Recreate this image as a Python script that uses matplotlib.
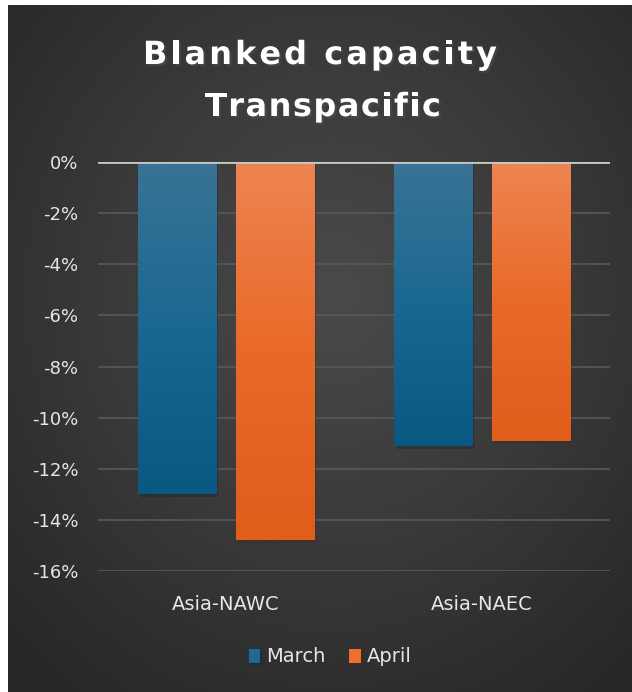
import numpy as np
import matplotlib
matplotlib.use("Agg")
import matplotlib.pyplot as plt
from matplotlib.colors import LinearSegmentedColormap
from matplotlib.font_manager import FontProperties
import matplotlib.patheffects as pe

# data
categories = ["Asia-NAWC", "Asia-NAEC"]
series_names = ["March", "April"]
march = [-13.0, -11.1]
april = [-14.8, -10.9]
yticks = [0, -2, -4, -6, -8, -10, -12, -14, -16]

W, H = 632, 692
fig = plt.figure(figsize=(W / 100, H / 100), dpi=100)
fig.patch.set_facecolor("white")

# background with radial gradient
bg = fig.add_axes([8 / W, 0, 1 - 8 / W, 1 - 5 / H])
bg.set_axis_off()
yy, xx = np.mgrid[0:1:300j, 0:1:300j]
r = np.sqrt(((xx - 0.52) / 0.75) ** 2 + ((yy - 0.58) / 0.75) ** 2)
bg_cmap = LinearSegmentedColormap.from_list("bg", ["#4a4a4a", "#393939", "#262626"])
bg.imshow(np.clip(r, 0, 1), cmap=bg_cmap, extent=[0, 1, 0, 1], aspect="auto",
          origin="lower", vmin=0, vmax=1)
bg.set_xlim(0, 1)
bg.set_ylim(0, 1)

ax = fig.add_axes([98 / W, 121 / H, 512 / W, 409 / H])
ax.patch.set_alpha(0)
for s in ax.spines.values():
    s.set_visible(False)

x = np.arange(len(categories))
width = 0.305
offset = 0.19

blue_cmap = LinearSegmentedColormap.from_list("b", ["#0a5881", "#1a6891", "#3a7396"])
orange_cmap = LinearSegmentedColormap.from_list("o", ["#e05d1a", "#e96a28", "#ee8452"])

grad = np.linspace(0, 1, 256).reshape(-1, 1)
legend_handles = []
for vals, off, cmap, name, solid in [(march, -offset, blue_cmap, "March", "#1d6a95"),
                                     (april, offset, orange_cmap, "April", "#ec6f2d")]:
    bars = ax.bar(x + off, vals, width, color=solid, zorder=3, label=name,
                  path_effects=[pe.SimplePatchShadow(offset=(1.5, -2), alpha=0.3),
                                pe.Normal()])
    legend_handles.append(bars)
    for b in bars:
        x0 = b.get_x()
        x1 = x0 + b.get_width()
        y0 = b.get_y() + b.get_height()
        im = ax.imshow(grad, cmap=cmap, extent=[x0, x1, y0, 0], aspect="auto",
                       origin="lower", zorder=4)
        im.set_clip_path(b)

ax.set_xlim(-0.5, 1.5)
ax.set_ylim(-16, 0)
ax.set_yticks(yticks)
ax.set_yticklabels([f"{t}%" for t in yticks])
ax.set_xticks(x)
ax.set_xticklabels(categories)
ax.tick_params(axis="both", length=0, colors="#e6e6e6")
ax.tick_params(axis="y", pad=14, labelsize=13)
ax.tick_params(axis="x", pad=17, labelsize=14)
ax.grid(axis="y", color="#595959", linewidth=1.2, zorder=0)
ax.set_axisbelow(True)
ax.axhline(0, color="#c8c8c8", linewidth=2, zorder=5)

# title with letter spacing, drawn char by char
renderer = fig.canvas.get_renderer()
title_prop = FontProperties(family="DejaVu Sans", weight="bold", size=23)


def tracked_title(s, cx, cy, target_w):
    widths = [renderer.get_text_width_height_descent(ch, title_prop, ismath=False)[0]
              for ch in s]
    track = (target_w - sum(widths)) / (len(s) - 1)
    pos = cx - target_w / 2
    for ch, w in zip(s, widths):
        if ch != " ":
            fig.text(pos / W, 1 - cy / H, ch, fontproperties=title_prop,
                     color="white", ha="left", va="baseline",
                     path_effects=[pe.withSimplePatchShadow(offset=(1.5, -1.5), alpha=0.6)])
        pos += w + track


tracked_title("Blanked capacity", 320, 64, 354)
tracked_title("Transpacific", 323, 116, 236)

leg = fig.legend(handles=legend_handles, labels=series_names, loc="center",
                 bbox_to_anchor=(330 / W, 1 - 657 / H), ncol=2, frameon=False,
                 fontsize=14, handlelength=0.6, handleheight=0.7,
                 handletextpad=0.3, columnspacing=1.2, labelcolor="#e6e6e6")

fig.savefig("out.png", dpi=100, facecolor=fig.get_facecolor())
